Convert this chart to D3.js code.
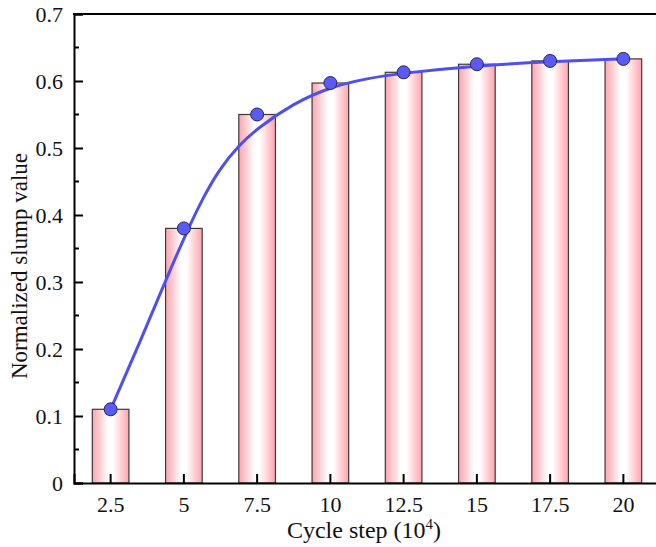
<!DOCTYPE html>
<html>
<head>
<meta charset="utf-8">
<script src="https://cdn.jsdelivr.net/npm/d3@7/dist/d3.min.js"></script>
<style>
  body { margin: 0; background: #fff; }
  svg text { font-family: 'Liberation Serif', 'Times New Roman', Times, serif !important; }
</style>
</head>
<body>
<div id="chart"></div>
<script>
// data
var categories = ['2.5', '5', '7.5', '10', '12.5', '15', '17.5', '20'];
var slumpValues = [0.11, 0.38, 0.55, 0.597, 0.613, 0.625, 0.630, 0.633];
// fitted curve as drawn in the figure (read at these steps)
var fitSteps = [2.5, 3.5, 4.4, 5.2, 5.65, 6.2, 6.9, 7.5, 8.75, 10, 11.25, 12.5, 15, 17.5, 20];
var fitValues = [0.11, 0.21, 0.305, 0.385, 0.425, 0.468, 0.505, 0.529, 0.567, 0.591, 0.604, 0.612, 0.623, 0.629, 0.633];
var yTicks = [0, 0.1, 0.2, 0.3, 0.4, 0.5, 0.6, 0.7];

var width = 656, height = 547;
var margin = {left: 74, top: 14, right: -4, bottom: 64};

var svg = d3.select('#chart').append('svg')
    .attr('width', width)
    .attr('height', height);

var x = d3.scaleBand()
    .domain(categories)
    .range([margin.left, width - margin.right])
    .paddingInner(0.5)
    .paddingOuter(0.25);

var y = d3.scaleLinear()
    .domain([0, 0.7])
    .range([height - margin.bottom, margin.top]);

var bw = x.bandwidth();
var xLin = d3.scaleLinear()
    .domain([2.5, 20])
    .range([x('2.5') + bw / 2, x('20') + bw / 2]);

// gradient for the bars: pink edges, white middle
var grad = svg.append('defs').append('linearGradient')
    .attr('id', 'barGrad')
    .attr('x1', '0%').attr('x2', '100%')
    .attr('y1', '0%').attr('y2', '0%');
grad.append('stop').attr('offset', '0%').attr('stop-color', '#ffa3ad');
grad.append('stop').attr('offset', '43%').attr('stop-color', '#ffffff');
grad.append('stop').attr('offset', '57%').attr('stop-color', '#ffffff');
grad.append('stop').attr('offset', '100%').attr('stop-color', '#ffa3ad');

// bars
svg.selectAll('rect.bar')
    .data(slumpValues)
    .enter()
    .append('rect')
    .attr('class', 'bar')
    .attr('x', function(d, i) { return x(categories[i]); })
    .attr('y', function(d) { return y(d); })
    .attr('width', bw)
    .attr('height', function(d) { return y(0) - y(d); })
    .attr('fill', 'url(#barGrad)')
    .attr('stroke', '#3a3a3a')
    .attr('stroke-width', 1.2);

// fitted curve
var line = d3.line()
    .x(function(d, i) { return xLin(fitSteps[i]); })
    .y(function(d) { return y(d); })
    .curve(d3.curveBasis);

svg.append('path')
    .datum(fitValues)
    .attr('d', line)
    .attr('fill', 'none')
    .attr('stroke', '#4f4ff0')
    .attr('stroke-width', 3);

// points
svg.selectAll('circle.pt')
    .data(slumpValues)
    .enter()
    .append('circle')
    .attr('class', 'pt')
    .attr('cx', function(d, i) { return x(categories[i]) + bw / 2; })
    .attr('cy', function(d) { return y(d); })
    .attr('r', 6.5)
    .attr('fill', '#5a5af5')
    .attr('stroke', '#26265a')
    .attr('stroke-width', 1);

// y axis
var yAxis = d3.axisLeft(y)
    .tickValues(yTicks)
    .tickSize(-9)
    .tickPadding(11)
    .tickFormat(function(d) { return d === 0 ? '0' : d3.format('.1f')(d); });

var gy = svg.append('g')
    .attr('transform', 'translate(' + margin.left + ',0)')
    .call(yAxis);
gy.select('.domain').attr('stroke-width', 2).attr('stroke', '#000');
gy.selectAll('.tick line').attr('stroke-width', 2);
gy.selectAll('.tick text').attr('font-size', 22).attr('fill', '#111');

// minor ticks on y
var minor = d3.range(1, 14, 2).map(function(k) { return k * 0.05; });
svg.append('g').selectAll('line')
    .data(minor)
    .enter()
    .append('line')
    .attr('x1', margin.left)
    .attr('x2', margin.left + 5)
    .attr('y1', function(d) { return y(d); })
    .attr('y2', function(d) { return y(d); })
    .attr('stroke', '#000')
    .attr('stroke-width', 2);

// x axis
var xAxis = d3.axisBottom(x)
    .tickSize(-9)
    .tickPadding(13);

var gx = svg.append('g')
    .attr('transform', 'translate(0,' + y(0) + ')')
    .call(xAxis);
gx.select('.domain').attr('stroke-width', 2).attr('stroke', '#000');
gx.selectAll('.tick line').attr('stroke-width', 2);
gx.selectAll('.tick text').attr('font-size', 22).attr('fill', '#111');

// top frame
svg.append('line')
    .attr('x1', margin.left - 1)
    .attr('x2', width)
    .attr('y1', margin.top)
    .attr('y2', margin.top)
    .attr('stroke', '#000')
    .attr('stroke-width', 2);

// axis titles
var xt = svg.append('text')
    .attr('x', 364)
    .attr('y', 538)
    .attr('text-anchor', 'middle')
    .attr('font-size', 24)
    .attr('fill', '#111');
xt.append('tspan').text('Cycle step (10');
xt.append('tspan').attr('font-size', 15).attr('dy', -9).text('4');
xt.append('tspan').attr('dy', 9).text(')');

svg.append('text')
    .attr('transform', 'translate(27,266) rotate(-90)')
    .attr('text-anchor', 'middle')
    .attr('font-size', 23)
    .attr('fill', '#111')
    .text('Normalized slump value');
</script>
</body>
</html>
